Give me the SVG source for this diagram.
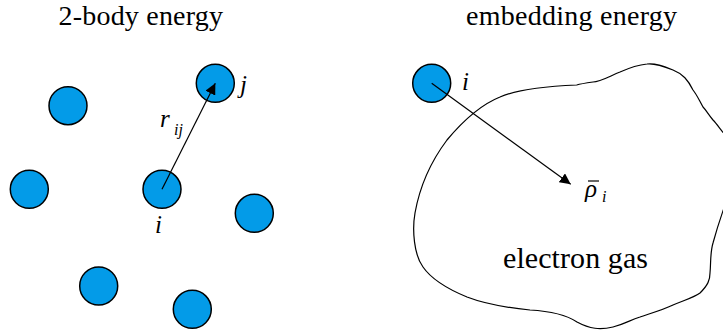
<svg xmlns="http://www.w3.org/2000/svg" width="723" height="336" viewBox="0 0 723 336">
<style>
.atom{fill:#039BE8;stroke:#000;stroke-width:1.5}
.ln{stroke:#000;stroke-width:1.2;fill:none}
</style>
<defs>
<marker id="ah" viewBox="0 0 10 10" refX="10" refY="5" markerWidth="11" markerHeight="11" markerUnits="userSpaceOnUse" orient="auto">
<path d="M0,0 L10,5 L0,10 z" fill="#000"/>
</marker>
</defs>
<g font-family="Liberation Serif, Times New Roman, serif" fill="#000">
<text font-size="28" x="58.5" y="25" textLength="164.5" lengthAdjust="spacing">2-body energy</text>
<text font-size="28" x="466" y="25" textLength="211" lengthAdjust="spacing">embedding energy</text>
</g>
<g id="blob"><path class="ln" d="M576.7,85 C555,86 520,88 500,97 C480,105 462,122 447,140 C432,160 420,185 415,213 C412,230 414,255 423,267 C432,280 450,290 467,297 C480,302 500,307 530,310 C548,311 565,314 577,322 C590,329 600,330 613,327 C625,324 630,320 640,317 C655,312 665,309 673,305 C685,300 695,297 700,293 C708,285 710,280 710,273 C711,263 710,253 713,243 C716,232 719,222 725,205 L730,180 L730,140 C724,135 718,125 713,120 C708,114 706,110 703,107 C699,100 697,95 693,90 C688,80 683,74 673,70 C663,66 655,63 647,64 C637,65 629,68 620,72 C610,76 600,82 593,82 C586,83 580,84 576.7,85 Z"/></g>
<g id="n1"><circle class="atom" cx="68" cy="105.7" r="19"/></g>
<g id="nj"><circle class="atom" cx="215.3" cy="83.3" r="19"/></g>
<g id="n3"><circle class="atom" cx="29.3" cy="189.3" r="19"/></g>
<g id="ni"><circle class="atom" cx="162" cy="189.3" r="19"/></g>
<g id="n5"><circle class="atom" cx="254.3" cy="213.3" r="19"/></g>
<g id="n6"><circle class="atom" cx="98.7" cy="286" r="19"/></g>
<g id="n7"><circle class="atom" cx="192.3" cy="309.3" r="19"/></g>
<g id="ni2"><circle class="atom" cx="431.7" cy="83.3" r="19"/></g>
<g id="connectors">
<line class="ln" x1="162" y1="189.3" x2="215.3" y2="83.3" marker-end="url(#ah)"/>
<line class="ln" x1="431.7" y1="83.3" x2="570.7" y2="184.3" marker-end="url(#ah)"/>
</g>
<g font-family="Liberation Serif, Times New Roman, serif" font-style="italic" fill="#000">
<text font-size="25" x="240" y="93">j</text>
<text font-size="25" x="155" y="233">i</text>
<text font-size="25" x="160" y="127">r</text>
<text font-size="16" x="174" y="135">ij</text>
<text font-size="25" x="462" y="90">i</text>
<text font-size="25" x="585" y="197">ρ</text>
<text font-size="16" x="602" y="202">i</text>
</g>
<line x1="588" y1="181" x2="599" y2="181" stroke="#000" stroke-width="1.2"/>
<text font-family="Liberation Serif, Times New Roman, serif" font-size="30" x="503" y="268" textLength="145" lengthAdjust="spacing">electron gas</text>
</svg>
